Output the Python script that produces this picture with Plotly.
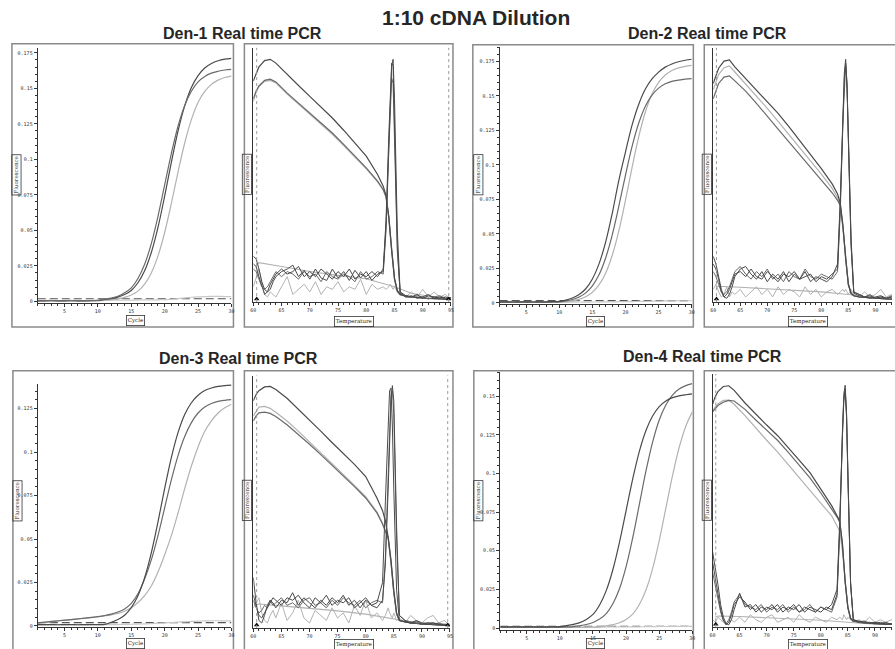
import plotly.graph_objects as go

W, H = 895, 649

# ---------------- amplification data (fluorescence per cycle) ----------------
CYCLES = list(range(1, 31))

D1_AMP_A = [0.0005,0.0005,0.0006,0.0005,0.0005,0.0006,0.0005,0.0005,0.0006,0.0007,
            0.0015,0.0023,0.0036,0.0060,0.0095,0.0161,0.0261,0.0407,0.0599,0.0820,
            0.1041,0.1233,0.1379,0.1479,0.1545,0.1584,0.1607,0.1620,0.1629,0.1633]
D1_AMP_B = [0.0004,0.0004,0.0005,0.0004,0.0004,0.0005,0.0004,0.0004,0.0005,0.0006,
            0.0013,0.0019,0.0030,0.0048,0.0077,0.0131,0.0215,0.0344,0.0521,0.0741,
            0.0979,0.1199,0.1376,0.1505,0.1589,0.1643,0.1675,0.1694,0.1705,0.1711]
D1_AMP_C = [0.0003,0.0003,0.0004,0.0003,0.0003,0.0004,0.0003,0.0003,0.0004,0.0004,
            0.0006,0.0012,0.0018,0.0028,0.0045,0.0072,0.0121,0.0200,0.0320,0.0485,
            0.0690,0.0910,0.1115,0.1280,0.1400,0.1478,0.1528,0.1558,0.1576,0.1586]
D1_AMP_NTC = [0.0006,0.0006,0.0007,0.0006,0.0006,0.0007,0.0006,0.0006,0.0007,0.0007,
              0.0007,0.0008,0.0008,0.0008,0.0009,0.0009,0.0010,0.0010,0.0011,0.0012,
              0.0015,0.0019,0.0024,0.0029,0.0032,0.0034,0.0035,0.0035,0.0034,0.0034]
D1_THRESHOLD = 0.0018

D2_AMP_A = [0.0008,0.0008,0.0007,0.0008,0.0008,0.0007,0.0008,0.0008,0.0009,0.0012,
            0.0021,0.0036,0.0061,0.0103,0.0174,0.0283,0.0441,0.0650,0.0890,0.1095,
            0.1290,0.1440,0.1550,0.1623,0.1673,0.1709,0.1732,0.1748,0.1759,0.1766]
D2_AMP_B = [0.0006,0.0006,0.0007,0.0006,0.0006,0.0007,0.0006,0.0006,0.0007,0.0008,
            0.0014,0.0025,0.0043,0.0073,0.0124,0.0204,0.0326,0.0494,0.0703,0.0927,
            0.1136,0.1304,0.1426,0.1506,0.1557,0.1588,0.1606,0.1615,0.1622,0.1626]
D2_AMP_C = [0.0004,0.0004,0.0005,0.0004,0.0004,0.0005,0.0004,0.0004,0.0005,0.0005,
            0.0007,0.0015,0.0026,0.0045,0.0078,0.0131,0.0216,0.0346,0.0524,0.0746,
            0.0984,0.1206,0.1384,0.1514,0.1599,0.1652,0.1685,0.1704,0.1714,0.1721]
D2_AMP_NTC = [0.0006,0.0006,0.0006,0.0007,0.0006,0.0006,0.0007,0.0006,0.0006,0.0007,
              0.0006,0.0006,0.0007,0.0006,0.0007,0.0007,0.0008,0.0008,0.0009,0.0009,
              0.0010,0.0011,0.0012,0.0013,0.0014,0.0015,0.0015,0.0016,0.0016,0.0016]
D2_THRESHOLD = 0.0017

D3_AMP_A = [0.0008,0.0008,0.0008,0.0007,0.0008,0.0008,0.0007,0.0008,0.0008,0.0008,
            0.0009,0.0021,0.0037,0.0062,0.0106,0.0174,0.0278,0.0421,0.0599,0.0791,
            0.0969,0.1112,0.1216,0.1284,0.1327,0.1354,0.1369,0.1378,0.1383,0.1386]
D3_AMP_B = [0.0018,0.0022,0.0026,0.0030,0.0034,0.0037,0.0041,0.0045,0.0049,0.0054,
            0.0060,0.0068,0.0080,0.0098,0.0130,0.0185,0.0270,0.0380,0.0520,0.0680,
            0.0840,0.0980,0.1090,0.1170,0.1225,0.1260,0.1280,0.1292,0.1298,0.1302]
D3_AMP_C = [0.0016,0.0020,0.0024,0.0028,0.0032,0.0036,0.0040,0.0044,0.0048,0.0053,
            0.0058,0.0064,0.0072,0.0085,0.0105,0.0135,0.0175,0.0230,0.0310,0.0410,
            0.0520,0.0650,0.0790,0.0920,0.1030,0.1120,0.1180,0.1225,0.1255,0.1275]
D3_AMP_NTC = [0.0006,0.0006,0.0007,0.0006,0.0006,0.0007,0.0006,0.0006,0.0007,0.0007,
              0.0007,0.0008,0.0008,0.0009,0.0010,0.0011,0.0012,0.0014,0.0016,0.0018,
              0.0020,0.0022,0.0024,0.0026,0.0028,0.0029,0.0030,0.0030,0.0029,0.0029]
D3_THRESHOLD = 0.0019

D4_AMP_A = [0.0008,0.0008,0.0007,0.0008,0.0008,0.0007,0.0008,0.0008,0.0008,0.0009,
            0.0016,0.0024,0.0035,0.0056,0.0088,0.0149,0.0242,0.0377,0.0555,0.0760,
            0.0965,0.1143,0.1278,0.1371,0.1432,0.1468,0.1490,0.1502,0.1509,0.1514]
D4_AMP_B = [0.0006,0.0006,0.0007,0.0006,0.0006,0.0007,0.0006,0.0006,0.0007,0.0006,
            0.0007,0.0009,0.0015,0.0023,0.0036,0.0058,0.0093,0.0157,0.0254,0.0397,
            0.0584,0.0800,0.1016,0.1203,0.1346,0.1443,0.1507,0.1546,0.1568,0.1581]
D4_AMP_C = [0.0004,0.0004,0.0005,0.0004,0.0004,0.0005,0.0004,0.0004,0.0005,0.0004,
            0.0004,0.0005,0.0004,0.0005,0.0006,0.0008,0.0014,0.0022,0.0034,0.0056,
            0.0090,0.0152,0.0246,0.0384,0.0566,0.0775,0.0984,0.1166,0.1304,0.1398]
D4_AMP_NTC = [0.0005,0.0005,0.0006,0.0005,0.0005,0.0006,0.0005,0.0005,0.0006,0.0005,
              0.0005,0.0006,0.0005,0.0006,0.0006,0.0006,0.0007,0.0007,0.0007,0.0008,
              0.0008,0.0008,0.0009,0.0009,0.0010,0.0010,0.0010,0.0011,0.0011,0.0011]
D4_THRESHOLD = 0.0012

# ---------------- melt data (relative fluorescence, 0..1 of panel height) ----------------
TM = [60, 60.5, 61, 62, 63, 64, 66, 68, 70, 72, 74, 76, 78, 80, 82, 83, 83.5, 84, 84.5,
      85, 85.5, 86, 87, 88, 90, 92, 95]

D1_MELT_A = [0.87,0.90,0.925,0.95,0.955,0.94,0.894,0.852,0.809,0.766,0.724,0.676,0.626,0.574,
             0.502,0.456,0.42,0.33,0.20,0.09,0.045,0.03,0.024,0.02,0.016,0.013,0.01]
D1_MELT_B = [0.80,0.83,0.85,0.872,0.877,0.866,0.822,0.783,0.744,0.705,0.665,0.62,0.574,0.528,
             0.476,0.443,0.415,0.335,0.21,0.095,0.045,0.03,0.024,0.02,0.016,0.013,0.01]
D1_MELT_C = [0.79,0.825,0.848,0.868,0.872,0.862,0.818,0.778,0.739,0.70,0.66,0.616,0.57,0.524,
             0.473,0.44,0.412,0.33,0.205,0.09,0.04,0.028,0.022,0.019,0.015,0.012,0.01]

D2_MELT_A = [0.86,0.89,0.92,0.948,0.953,0.925,0.88,0.835,0.79,0.742,0.69,0.635,0.58,0.525,
             0.465,0.425,0.39,0.30,0.17,0.07,0.035,0.025,0.02,0.018,0.015,0.012,0.01]
D2_MELT_B = [0.835,0.87,0.895,0.922,0.929,0.905,0.858,0.81,0.762,0.711,0.66,0.608,0.555,0.503,
             0.447,0.41,0.385,0.30,0.17,0.07,0.035,0.025,0.02,0.018,0.015,0.012,0.01]
D2_MELT_C = [0.80,0.835,0.86,0.885,0.89,0.87,0.83,0.782,0.733,0.68,0.63,0.58,0.53,0.48,
             0.43,0.40,0.38,0.29,0.165,0.068,0.034,0.025,0.02,0.018,0.015,0.012,0.01]

D3_MELT_A = [0.90,0.925,0.94,0.955,0.957,0.945,0.91,0.868,0.826,0.78,0.735,0.692,0.648,0.60,
             0.515,0.465,0.425,0.36,0.27,0.15,0.06,0.03,0.024,0.02,0.016,0.013,0.01]
D3_MELT_B = [0.84,0.86,0.875,0.878,0.87,0.855,0.82,0.78,0.738,0.695,0.652,0.608,0.565,0.52,
             0.46,0.415,0.385,0.36,0.26,0.14,0.055,0.03,0.024,0.02,0.016,0.013,0.01]
D3_MELT_C = [0.82,0.84,0.852,0.855,0.85,0.838,0.805,0.768,0.728,0.687,0.645,0.602,0.56,0.515,
             0.456,0.412,0.38,0.355,0.26,0.14,0.055,0.03,0.024,0.02,0.016,0.013,0.01]

D4_MELT_A = [0.88,0.91,0.93,0.95,0.953,0.935,0.885,0.84,0.798,0.757,0.71,0.66,0.61,0.545,
             0.48,0.44,0.42,0.33,0.18,0.08,0.035,0.025,0.02,0.018,0.015,0.012,0.01]
D4_MELT_B = [0.85,0.865,0.875,0.888,0.895,0.893,0.86,0.818,0.778,0.738,0.69,0.64,0.59,0.53,
             0.47,0.435,0.415,0.325,0.178,0.078,0.035,0.025,0.02,0.018,0.015,0.012,0.01]
D4_MELT_C = [0.85,0.87,0.882,0.895,0.896,0.88,0.835,0.785,0.738,0.692,0.64,0.59,0.54,0.49,
             0.44,0.40,0.38,0.30,0.17,0.075,0.033,0.024,0.02,0.017,0.014,0.012,0.01]

TD = [60, 60.5, 61, 61.5, 62, 62.5, 63, 63.5, 64,
      65, 66, 67, 68, 69, 70, 71, 72, 73, 74, 75, 76, 77, 78, 79, 80, 81, 82, 83,
      83.5, 84, 84.25, 84.5, 84.75, 85, 85.5, 86,
      87, 88, 89, 90, 91, 92, 93, 94, 95]

D1_DERIV_A = [0.18,0.17,0.13,0.08,0.05,0.04,0.05,0.08,0.10,
              0.12,0.13,0.145,0.10,0.125,0.09,0.13,0.095,0.085,0.13,0.095,0.12,0.085,0.125,0.095,0.12,0.085,0.11,0.12,
              0.30,0.62,0.80,0.93,0.955,0.80,0.28,0.04,
              0.025,0.02,0.03,0.015,0.025,0.02,0.015,0.02,0.015]
D1_DERIV_B = [0.15,0.14,0.10,0.06,0.03,0.04,0.07,0.09,0.11,
              0.13,0.11,0.12,0.14,0.10,0.12,0.10,0.13,0.11,0.09,0.12,0.10,0.13,0.09,0.11,0.10,0.12,0.10,0.13,
              0.32,0.66,0.84,0.94,0.93,0.72,0.22,0.035,
              0.02,0.025,0.015,0.02,0.03,0.015,0.02,0.012,0.018]
D1_DERIV_C = [0.13,0.12,0.09,0.06,0.05,0.06,0.08,0.10,0.12,
              0.10,0.12,0.11,0.09,0.12,0.10,0.11,0.08,0.12,0.10,0.09,0.11,0.10,0.08,0.12,0.09,0.10,0.12,0.11,
              0.28,0.60,0.78,0.88,0.86,0.66,0.20,0.04,
              0.02,0.018,0.025,0.02,0.012,0.02,0.025,0.015,0.01]
D1_NOISE = [0.06,0.10,0.13,0.08,0.03,0.02,0.04,0.03,0.02,
            0.06,0.10,0.03,0.05,0.07,0.04,0.08,0.03,0.06,0.05,0.08,0.04,0.06,0.05,0.09,0.03,0.07,0.05,0.06,
            0.05,0.06,0.07,0.06,0.05,0.06,0.04,0.03,
            0.02,0.04,0.02,0.05,0.02,0.04,0.02,0.03,0.01]

D2_DERIV_A = [0.18,0.15,0.10,0.05,0.02,0.015,0.03,0.06,0.10,
              0.13,0.14,0.11,0.09,0.12,0.08,0.11,0.09,0.12,0.08,0.11,0.09,0.12,0.08,0.10,0.09,0.08,0.10,0.15,
              0.40,0.78,0.90,0.955,0.85,0.66,0.25,0.04,
              0.03,0.02,0.025,0.015,0.02,0.015,0.02,0.015,0.01]
D2_DERIV_B = [0.15,0.13,0.09,0.04,0.02,0.03,0.05,0.08,0.11,
              0.12,0.10,0.13,0.10,0.09,0.12,0.10,0.08,0.11,0.10,0.12,0.09,0.10,0.11,0.08,0.10,0.09,0.11,0.13,
              0.38,0.75,0.88,0.94,0.86,0.64,0.23,0.035,
              0.025,0.02,0.015,0.02,0.025,0.015,0.02,0.012,0.01]
D2_DERIV_C = [0.12,0.10,0.07,0.04,0.03,0.04,0.06,0.09,0.12,
              0.14,0.11,0.09,0.12,0.10,0.13,0.09,0.11,0.08,0.12,0.10,0.09,0.13,0.10,0.09,0.11,0.10,0.09,0.12,
              0.35,0.72,0.86,0.93,0.84,0.62,0.22,0.04,
              0.03,0.02,0.03,0.015,0.02,0.015,0.025,0.015,0.01]
D2_NOISE = [0.05,0.07,0.04,0.02,0.03,0.06,0.02,0.04,0.03,
            0.05,0.02,0.04,0.06,0.03,0.05,0.02,0.06,0.03,0.05,0.04,0.02,0.06,0.03,0.05,0.02,0.04,0.05,0.03,
            0.04,0.05,0.04,0.05,0.04,0.03,0.05,0.03,
            0.02,0.04,0.02,0.03,0.05,0.02,0.03,0.02,0.01]

D3_DERIV_A = [0.20,0.10,0.03,0.02,0.05,0.09,0.11,0.10,0.08,
              0.11,0.10,0.14,0.09,0.12,0.10,0.08,0.11,0.09,0.12,0.10,0.13,0.09,0.11,0.08,0.11,0.09,0.10,0.18,
              0.50,0.85,0.94,0.95,0.80,0.55,0.15,0.03,
              0.025,0.02,0.03,0.02,0.015,0.02,0.015,0.012,0.01]
D3_DERIV_B = [0.13,0.09,0.05,0.04,0.06,0.08,0.10,0.12,0.11,
              0.09,0.12,0.11,0.13,0.10,0.08,0.12,0.10,0.13,0.09,0.11,0.10,0.12,0.08,0.10,0.12,0.09,0.08,0.11,
              0.25,0.55,0.75,0.90,0.96,0.90,0.40,0.05,
              0.03,0.02,0.025,0.015,0.02,0.02,0.015,0.012,0.01]
D3_DERIV_C = [0.11,0.08,0.06,0.07,0.09,0.08,0.11,0.09,0.10,
              0.12,0.09,0.10,0.08,0.11,0.12,0.09,0.10,0.08,0.11,0.09,0.12,0.10,0.09,0.11,0.08,0.10,0.11,0.10,
              0.28,0.60,0.80,0.92,0.94,0.85,0.35,0.05,
              0.03,0.025,0.02,0.015,0.02,0.015,0.02,0.012,0.01]
D3_NOISE = [0.08,0.10,0.12,0.06,0.03,0.02,0.05,0.07,0.04,
            0.10,0.03,0.06,0.11,0.04,0.02,0.07,0.05,0.03,0.08,0.04,0.06,0.02,0.09,0.05,0.11,0.04,0.06,0.03,
            0.05,0.08,0.06,0.05,0.04,0.06,0.03,0.04,
            0.02,0.05,0.03,0.02,0.04,0.05,0.02,0.03,0.01]

D4_DERIV_A = [0.30,0.24,0.17,0.09,0.04,0.015,0.01,0.03,0.07,
              0.135,0.08,0.09,0.06,0.08,0.07,0.09,0.06,0.08,0.07,0.09,0.06,0.08,0.07,0.06,0.08,0.07,0.09,0.15,
              0.42,0.80,0.92,0.955,0.85,0.62,0.18,0.03,
              0.025,0.02,0.02,0.015,0.02,0.012,0.015,0.01,0.01]
D4_DERIV_B = [0.26,0.20,0.13,0.07,0.03,0.01,0.02,0.05,0.09,
              0.12,0.10,0.07,0.09,0.06,0.08,0.07,0.09,0.06,0.08,0.07,0.09,0.06,0.08,0.07,0.06,0.08,0.07,0.13,
              0.40,0.78,0.90,0.94,0.84,0.60,0.17,0.03,
              0.02,0.025,0.015,0.02,0.015,0.02,0.012,0.01,0.01]
D4_DERIV_C = [0.22,0.17,0.11,0.06,0.025,0.015,0.03,0.06,0.10,
              0.13,0.09,0.08,0.07,0.09,0.06,0.08,0.07,0.09,0.06,0.08,0.06,0.07,0.09,0.06,0.08,0.07,0.06,0.12,
              0.38,0.76,0.89,0.93,0.83,0.60,0.17,0.03,
              0.02,0.02,0.015,0.02,0.015,0.015,0.012,0.01,0.01]
D4_NOISE = [0.03,0.02,0.04,0.03,0.02,0.01,0.02,0.03,0.02,
            0.04,0.02,0.05,0.03,0.02,0.04,0.05,0.02,0.03,0.04,0.02,0.05,0.03,0.02,0.04,0.03,0.02,0.04,0.03,
            0.04,0.03,0.05,0.04,0.03,0.04,0.03,0.02,
            0.03,0.02,0.04,0.02,0.03,0.02,0.03,0.02,0.01]

TS = [60.5, 61, 65, 70, 75, 80, 85, 88, 92, 95]
D1_SMOOTH = [0.14, 0.155, 0.14, 0.12, 0.105, 0.092, 0.06, 0.035, 0.02, 0.015]
D2_SMOOTH = [0.06, 0.062, 0.058, 0.052, 0.046, 0.04, 0.03, 0.022, 0.015, 0.012]
D3_SMOOTH = [0.09, 0.095, 0.088, 0.078, 0.068, 0.055, 0.035, 0.025, 0.02, 0.015]
D4_SMOOTH = [0.04, 0.045, 0.043, 0.038, 0.033, 0.028, 0.02, 0.015, 0.012, 0.01]

MELT_MARKS = [60.6, 94.6]
MELT_MARK_LEVEL = [0.012, 0.012]

AMP_XTICKS = [5, 10, 15, 20, 25, 30]
MELT_XTICKS = [60, 65, 70, 75, 80, 85, 90, 95]
YT_175 = [0, 0.025, 0.05, 0.075, 0.1, 0.125, 0.15, 0.175]
YL_175 = ["0", "0.025", "0.05", "0.075", "0.1", "0.125", "0.15", "0.175"]
YT_150 = YT_175[:7]
YL_150 = YL_175[:7]
YT_125 = YT_175[:6]
YL_125 = YL_175[:6]

TITLE = "1:10 cDNA Dilution"
PANEL_TITLES = ["Den-1 Real time PCR", "Den-2 Real time PCR",
                "Den-3 Real time PCR", "Den-4 Real time PCR"]

# ---------------- styling ----------------
DARK = "#4a4a4a"
MID = "#6a6a6a"
LIGHT = "#b2b2b2"
FAINT = "#c8c8c8"
AXC = "#333333"
FRAME = "#8a8a8a"
TICKFONT = dict(family="DejaVu Sans Mono", size=5, color="#333")
LABFONT = dict(family="DejaVu Serif", size=5.5, color="#222")


def fx(px):
    return px / W


def fy(py):
    return 1 - py / H


panels = [
    dict(kind="amp", box=(9, 44, 232, 328), x=(35, 230), y=(48, 304), xr=(1, 30),
         yr=(-0.0012, 0.1785), yt=(YT_175, YL_175), thr=D1_THRESHOLD,
         series=[(D1_AMP_NTC, FAINT), (D1_AMP_C, LIGHT), (D1_AMP_B, DARK), (D1_AMP_A, MID)],
         ylab=(14, 175), xlab=(133, 321)),
    dict(kind="melt", box=(243, 44, 453, 328), x=(252, 451), y=(48, 303), xr=(60, 95),
         smooth=D1_SMOOTH, noise=D1_NOISE,
         melt=[(D1_MELT_C, LIGHT), (D1_MELT_B, MID), (D1_MELT_A, DARK)],
         deriv=[(D1_DERIV_C, MID), (D1_DERIV_B, DARK), (D1_DERIV_A, DARK)],
         ylab=(246, 175), xlab=(353, 322)),
    dict(kind="amp", box=(473, 45, 695, 328), x=(500, 693.4), y=(46.7, 305), xr=(1, 30),
         yr=(-0.0008, 0.1858), yt=(YT_175, YL_175), thr=D2_THRESHOLD,
         series=[(D2_AMP_NTC, FAINT), (D2_AMP_C, LIGHT), (D2_AMP_B, MID), (D2_AMP_A, DARK)],
         ylab=(479, 175), xlab=(597, 322)),
    dict(kind="melt", box=(706, 45, 900, 328), x=(715, 895), y=(48, 303), xr=(60, 93.07),
         smooth=D2_SMOOTH, noise=D2_NOISE,
         melt=[(D2_MELT_B, LIGHT), (D2_MELT_C, MID), (D2_MELT_A, DARK)],
         deriv=[(D2_DERIV_C, MID), (D2_DERIV_B, DARK), (D2_DERIV_A, DARK)],
         ylab=(709, 175), xlab=(810, 322)),
    dict(kind="amp", box=(10, 372, 232, 655), x=(35, 230), y=(385, 629.3), xr=(1, 30),
         yr=(-0.0008, 0.1393), yt=(YT_125, YL_125), thr=D3_THRESHOLD,
         series=[(D3_AMP_NTC, FAINT), (D3_AMP_C, LIGHT), (D3_AMP_B, MID), (D3_AMP_A, DARK)],
         ylab=(15, 502), xlab=(133, 645)),
    dict(kind="melt", box=(243, 372, 453, 655), x=(252, 450), y=(376.7, 630), xr=(60, 95),
         smooth=D3_SMOOTH, noise=D3_NOISE,
         melt=[(D3_MELT_B, LIGHT), (D3_MELT_C, MID), (D3_MELT_A, DARK)],
         deriv=[(D3_DERIV_C, MID), (D3_DERIV_B, DARK), (D3_DERIV_A, DARK)],
         ylab=(246, 502), xlab=(353, 646)),
    dict(kind="amp", box=(474, 372, 695, 655), x=(500.6, 694), y=(373.3, 631.7), xr=(1, 30),
         yr=(-0.0011, 0.1655), yt=(YT_150, YL_150), thr=D4_THRESHOLD,
         series=[(D4_AMP_NTC, FAINT), (D4_AMP_C, LIGHT), (D4_AMP_B, MID), (D4_AMP_A, DARK)],
         ylab=(479, 502), xlab=(597, 645)),
    dict(kind="melt", box=(706, 372, 900, 655), x=(714.3, 895), y=(375, 629.3), xr=(60, 93.15),
         smooth=D4_SMOOTH, noise=D4_NOISE,
         melt=[(D4_MELT_C, LIGHT), (D4_MELT_B, MID), (D4_MELT_A, DARK)],
         deriv=[(D4_DERIV_C, MID), (D4_DERIV_B, DARK), (D4_DERIV_A, DARK)],
         ylab=(709, 502), xlab=(810, 646)),
]

fig = go.Figure()
layout = {}
shapes = []
annotations = []


def line_trace(xs, ys, xr_, yr_, color, width=1.2, dash="solid", shape="linear"):
    return go.Scatter(x=xs, y=ys, xaxis=xr_, yaxis=yr_, mode="lines",
                      line=dict(color=color, width=width, dash=dash, shape=shape),
                      hoverinfo="skip", showlegend=False)


for i, p in enumerate(panels, start=1):
    xa = "xaxis" if i == 1 else f"xaxis{i}"
    ya = "yaxis" if i == 1 else f"yaxis{i}"
    xr_ = "x" if i == 1 else f"x{i}"
    yr_ = "y" if i == 1 else f"y{i}"

    bx0, by0, bx1, by1 = p["box"]
    shapes.append(dict(type="rect", xref="paper", yref="paper",
                       x0=fx(bx0), x1=fx(bx1), y0=fy(by1), y1=fy(by0),
                       line=dict(color=FRAME, width=1.5), layer="below"))

    common_x = dict(domain=[fx(p["x"][0]), fx(p["x"][1])], anchor=yr_, range=list(p["xr"]),
                    showline=True, linecolor=AXC, linewidth=1, showgrid=False, zeroline=False,
                    ticks="outside", ticklen=3, tickcolor=AXC, tickwidth=1, tickfont=TICKFONT,
                    fixedrange=True)
    common_y = dict(domain=[fy(p["y"][1]), fy(p["y"][0])], anchor=xr_,
                    showline=True, linecolor=AXC, linewidth=1.2, showgrid=False, zeroline=False,
                    fixedrange=True)

    if p["kind"] == "amp":
        layout[xa] = dict(common_x, tickmode="array", tickvals=AMP_XTICKS,
                          ticktext=[str(v) for v in AMP_XTICKS],
                          minor=dict(tickmode="linear", tick0=0, dtick=1, ticklen=2,
                                     ticks="outside", tickcolor=AXC))
        layout[ya] = dict(common_y, range=list(p["yr"]), tickmode="array",
                          tickvals=p["yt"][0], ticktext=p["yt"][1], ticks="outside",
                          ticklen=3, tickcolor=AXC, tickfont=TICKFONT,
                          minor=dict(tickmode="linear", tick0=0, dtick=0.005, ticklen=2,
                                     ticks="outside", tickcolor=AXC))
        fig.add_trace(line_trace([CYCLES[0], CYCLES[-1]], [p["thr"], p["thr"]], xr_, yr_,
                                 "#555555", width=1.1, dash="8px,4px"))
        for ys, col in p["series"]:
            fig.add_trace(line_trace(CYCLES, ys, xr_, yr_, col, width=1.2, shape="spline"))
        annotations.append(dict(text="Cycle", xref="paper", yref="paper",
                                x=fx(p["xlab"][0]), y=fy(p["xlab"][1]), showarrow=False,
                                font=LABFONT, bordercolor="#333", borderwidth=0.8, borderpad=1,
                                xanchor="center", yanchor="middle"))
    else:
        layout[xa] = dict(common_x, tickmode="array", tickvals=MELT_XTICKS,
                          ticktext=[str(v) for v in MELT_XTICKS],
                          minor=dict(tickmode="linear", tick0=60, dtick=1, ticklen=2,
                                     ticks="outside", tickcolor=AXC))
        layout[ya] = dict(common_y, range=[0, 1], showticklabels=False, ticks="")
        for t in MELT_MARKS:
            if t <= p["xr"][1]:
                shapes.append(dict(type="line", xref=xr_, yref=f"{yr_} domain",
                                   x0=t, x1=t, y0=0, y1=1,
                                   line=dict(color="#9a9a9a", width=1, dash="dot")))
        fig.add_trace(line_trace(TS, p["smooth"], xr_, yr_, LIGHT, width=1.1))
        fig.add_trace(line_trace(TD, p["noise"], xr_, yr_, LIGHT, width=1.0))
        for ys, col in p["melt"]:
            fig.add_trace(line_trace(TM, ys, xr_, yr_, col, width=1.2))
        for ys, col in p["deriv"]:
            fig.add_trace(line_trace(TD, ys, xr_, yr_, col, width=1.0))
        marks = [t for t in MELT_MARKS if t <= p["xr"][1]]
        fig.add_trace(go.Scatter(x=marks, y=MELT_MARK_LEVEL[:len(marks)], xaxis=xr_, yaxis=yr_,
                                 mode="markers", hoverinfo="skip", showlegend=False,
                                 marker=dict(symbol="triangle-up", size=5, color="#111")))
        annotations.append(dict(text="Temperature", xref="paper", yref="paper",
                                x=fx(p["xlab"][0]), y=fy(p["xlab"][1]), showarrow=False,
                                font=LABFONT, bordercolor="#333", borderwidth=0.8, borderpad=1,
                                xanchor="center", yanchor="middle"))

    annotations.append(dict(text="Fluorescence", xref="paper", yref="paper",
                            x=fx(p["ylab"][0]), y=fy(p["ylab"][1]), showarrow=False,
                            textangle=-90, font=LABFONT, bordercolor="#333", borderwidth=0.8,
                            borderpad=1, xanchor="center", yanchor="middle"))

# titles
TITLE_FONT = dict(family="Liberation Sans, Arial, sans-serif", color="#262626")
annotations.append(dict(text=f"<b>{TITLE}</b>", xref="paper", yref="paper",
                        x=fx(476), y=fy(17.5), showarrow=False,
                        font=dict(TITLE_FONT, size=21), xanchor="center", yanchor="middle"))
for txt, (cx, cy) in zip(PANEL_TITLES, [(241, 33.5), (709, 33.5), (237, 360), (704.5, 358)]):
    annotations.append(dict(text=f"<b>{txt}</b>", xref="paper", yref="paper",
                            x=fx(cx), y=fy(cy), showarrow=False,
                            font=dict(TITLE_FONT, size=16), xanchor="center", yanchor="middle"))

fig.update_layout(width=W, height=H, margin=dict(l=0, r=0, t=0, b=0),
                  paper_bgcolor="white", plot_bgcolor="white", showlegend=False,
                  shapes=shapes, annotations=annotations, **layout)

fig.write_html("out.html", config={"displayModeBar": False})
